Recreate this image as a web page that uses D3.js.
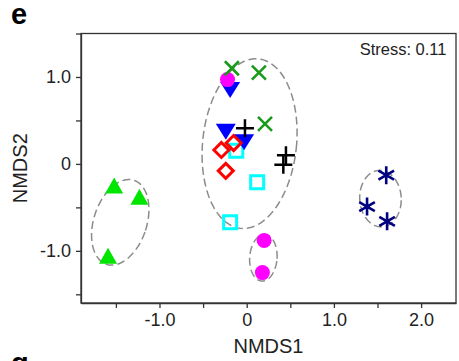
<!DOCTYPE html>
<html>
<head>
<meta charset="utf-8">
<script src="https://cdn.jsdelivr.net/npm/d3@7"></script>
<style>
    html, body { margin: 0; padding: 0; background: #fff; overflow: hidden; }
    svg { display: block; font-family: "Liberation Sans", Arial, sans-serif; }
    .axis path, .axis line { stroke: #333; stroke-width: 1.3; }
    .axis text { font-size: 18px; fill: #222; }
</style>
</head>
<body>
<div id="chart"></div>
<script>
// ============================================================================
// NMDS ordination plot (panel e)
// ============================================================================

// --- data: NMDS scores, one array per group ---
const limeTriangles = [[-1.52, -0.27], [-1.23, -0.40], [-1.59, -1.08]];
const cyanSquares   = [[-0.12, 0.15], [0.12, -0.21], [-0.19, -0.67]];
const blueTriangles = [[-0.19, 0.85], [-0.24, 0.37], [-0.03, 0.25]];
const magentaDots   = [[-0.22, 0.97], [0.20, -0.88], [0.18, -1.25]];
const redDiamonds   = [[-0.29, 0.16], [-0.15, 0.24], [-0.24, -0.08]];
const blackPlus     = [[-0.02, 0.41], [0.42, -0.01], [0.45, 0.10]];
const greenCrosses  = [[-0.17, 1.10], [0.14, 1.05], [0.21, 0.46]];
const navyStars     = [[1.60, -0.13], [1.38, -0.49], [1.61, -0.66]];

// ellipses: [cx, cy, rx, ry, angle (deg, counter-clockwise)]
const ellipses = [
    [0.033, 0.233, 0.538, 0.980, -6],
    [-1.450, -0.672, 0.304, 0.508, -18],
    [0.191, -1.080, 0.157, 0.268, -4],
    [1.534, -0.399, 0.238, 0.325, 3]
];

const xTicks = [-1.5, -1, -0.5, 0, 0.5, 1, 1.5, 2];
const yTicks = [-1.5, -1, -0.5, 0, 0.5, 1, 1.5];
const tickLabels = { '-1': '-1.0', '0': '0', '1': '1.0', '2': '2.0' };

const width = 459, height = 361;
const margin = { top: 33.5, right: 3, bottom: 58, left: 81 };

const svg = d3.select('#chart').append('svg')
    .attr('width', width)
    .attr('height', height);

const x = d3.scaleLinear().domain([-1.9, 2.4]).range([margin.left, width - margin.right]);
const y = d3.scaleLinear().domain([-1.6, 1.5]).range([height - margin.bottom, margin.top]);

// Frame
svg.append('rect')
    .attr('x', x(-1.9)).attr('y', y(1.5))
    .attr('width', x(2.4) - x(-1.9)).attr('height', y(-1.6) - y(1.5))
    .attr('fill', 'none')
    .attr('stroke', '#333')
    .attr('stroke-width', 1.3);

// Axes
const fmt = d => tickLabels[String(d)] || '';

svg.append('g')
    .attr('class', 'axis')
    .attr('transform', `translate(0,${y(-1.6)})`)
    .call(d3.axisBottom(x).tickValues(xTicks).tickFormat(fmt).tickSize(5).tickPadding(5).tickSizeOuter(0));

svg.append('g')
    .attr('class', 'axis')
    .attr('transform', `translate(${x(-1.9)},0)`)
    .call(d3.axisLeft(y).tickValues(yTicks).tickFormat(fmt).tickSize(5).tickPadding(5).tickSizeOuter(0));

// Titles
svg.append('text')
    .attr('x', (x(-1.9) + x(2.4)) / 2).attr('y', 352.5)
    .attr('text-anchor', 'middle')
    .attr('font-size', 20).attr('fill', '#222')
    .text('NMDS1');

svg.append('text')
    .attr('transform', `translate(26.5,${(y(1.5) + y(-1.6)) / 2}) rotate(-90)`)
    .attr('text-anchor', 'middle')
    .attr('font-size', 20).attr('fill', '#222')
    .text('NMDS2');

svg.append('text')
    .attr('x', 446.5).attr('y', 54.5)
    .attr('text-anchor', 'end')
    .attr('font-size', 16.5).attr('fill', '#222')
    .text('Stress: 0.11');

svg.append('text')
    .attr('x', 11).attr('y', 23.5)
    .attr('font-size', 29).attr('font-weight', 'bold')
    .text('e');

// next panel's letter, cut by the bottom edge as in the source figure
svg.append('text')
    .attr('x', 11).attr('y', 373)
    .attr('font-size', 29).attr('font-weight', 'bold')
    .text('g');

// Dashed ellipses
const ellipsePath = ([cx, cy, rx, ry, ang]) => {
    const a = ang * Math.PI / 180;
    const pts = d3.range(0, 361, 3).map(deg => {
        const p = deg * Math.PI / 180;
        const ex = rx * Math.cos(p), ey = ry * Math.sin(p);
        return [x(cx + ex * Math.cos(a) - ey * Math.sin(a)),
                y(cy + ex * Math.sin(a) + ey * Math.cos(a))];
    });
    return d3.line()(pts) + 'Z';
};

svg.append('g').selectAll('path')
    .data(ellipses)
    .join('path')
    .attr('d', ellipsePath)
    .attr('fill', 'none')
    .attr('stroke', '#8c8c8c')
    .attr('stroke-width', 1.5)
    .attr('stroke-dasharray', '8,4');

// Point symbols (drawn in pixel space around the point)
const shapes = {
    triUp:   'M0,-10L9,6L-9,6Z',
    triDown: 'M0,8L10,-8L-10,-8Z',
    diamond: 'M0,-7.5L7.5,0L0,7.5L-7.5,0Z',
    square:  'M-6.5,-6.5H6.5V6.5H-6.5Z',
    cross:   'M-7,-7L7,7M-7,7L7,-7',
    plus:    'M-9,0H9M0,-9V9',
    star:    'M0,-9V9M-7.8,-4.5L7.8,4.5M-7.8,4.5L7.8,-4.5'
};

function drawGroup(data, shape, opts) {
    const g = svg.append('g');
    if (shape === 'circle') {
        g.selectAll('circle')
            .data(data)
            .join('circle')
            .attr('cx', d => x(d[0])).attr('cy', d => y(d[1]))
            .attr('r', 7.5)
            .attr('fill', opts.fill);
        return;
    }
    g.selectAll('path')
        .data(data)
        .join('path')
        .attr('transform', d => `translate(${x(d[0])},${y(d[1])})`)
        .attr('d', shapes[shape])
        .attr('fill', opts.fill || 'none')
        .attr('stroke', opts.stroke || 'none')
        .attr('stroke-width', opts.sw || 0);
}

drawGroup(limeTriangles, 'triUp', { fill: '#00e600' });
drawGroup(cyanSquares, 'square', { stroke: '#00ffff', sw: 3 });
drawGroup(blueTriangles, 'triDown', { fill: '#0000ff' });
drawGroup(magentaDots, 'circle', { fill: '#ff00ff' });
drawGroup(redDiamonds, 'diamond', { stroke: '#ff0000', sw: 3 });
drawGroup(blackPlus, 'plus', { stroke: '#000', sw: 2.5 });
drawGroup(greenCrosses, 'cross', { stroke: '#1a9a1a', sw: 2.6 });
drawGroup(navyStars, 'star', { stroke: '#000080', sw: 2.6 });
</script>
</body>
</html>
